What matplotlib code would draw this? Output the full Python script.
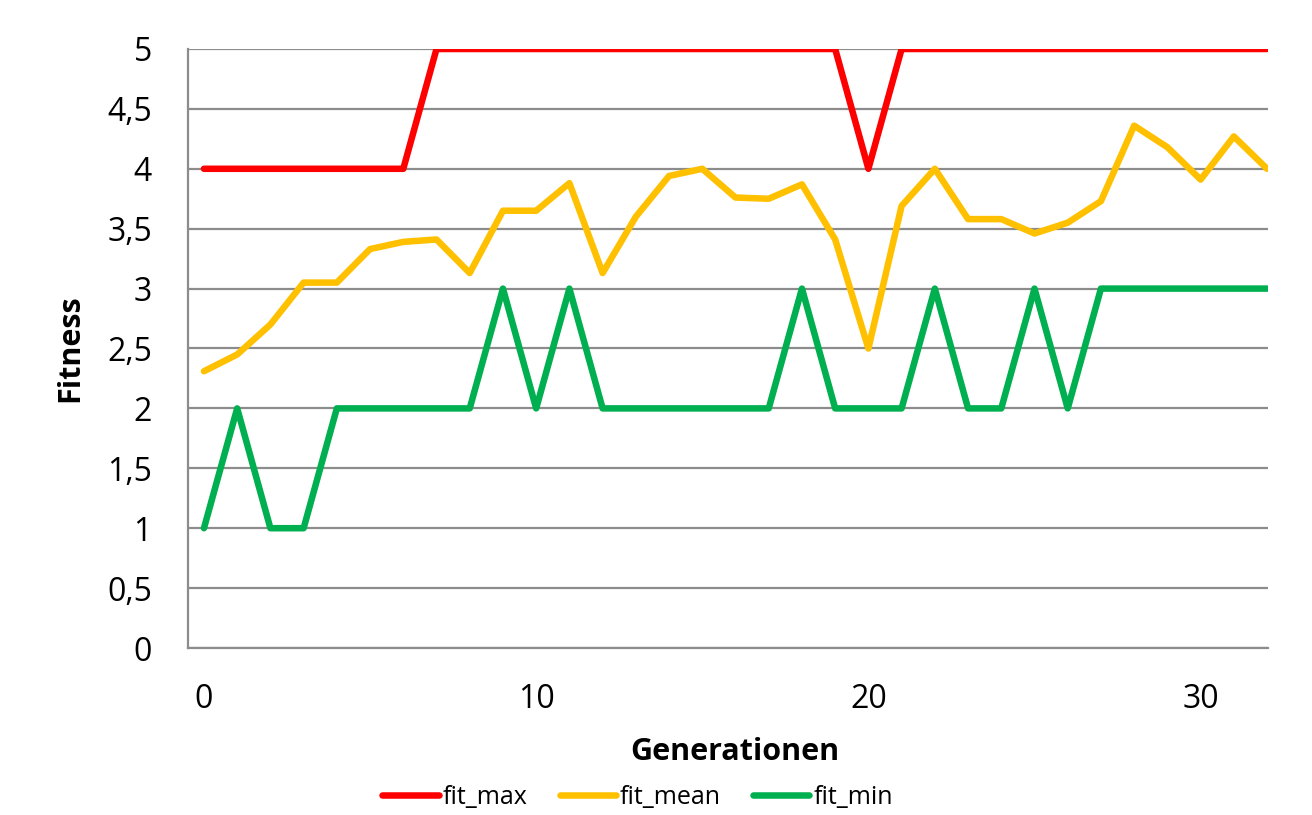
import matplotlib
matplotlib.use("Agg")
import matplotlib.pyplot as plt
from matplotlib.ticker import FuncFormatter

generations = list(range(33))
fit_max = [4, 4, 4, 4, 4, 4, 4, 5, 5, 5, 5, 5, 5, 5, 5, 5, 5, 5, 5, 5,
           4, 5, 5, 5, 5, 5, 5, 5, 5, 5, 5, 5, 5]
fit_mean = [2.31, 2.45, 2.70, 3.05, 3.05, 3.33, 3.39, 3.41, 3.13, 3.65, 3.65,
            3.88, 3.13, 3.60, 3.94, 4.00, 3.76, 3.75, 3.87, 3.41, 2.50, 3.69,
            4.00, 3.58, 3.58, 3.46, 3.55, 3.73, 4.36, 4.18, 3.91, 4.27, 4.00]
fit_min = [1, 2, 1, 1, 2, 2, 2, 2, 2, 3, 2, 3, 2, 2, 2, 2, 2, 2, 3, 2,
           2, 2, 3, 2, 2, 3, 2, 3, 3, 3, 3, 3, 3]

plt.rcParams["font.family"] = ["Open Sans", "DejaVu Sans"]

fig = plt.figure(figsize=(13.12, 8.15), dpi=100)
ax = fig.add_axes([0.1433, 0.2049, 0.8232, 0.735])

lw = 4.7
ax.plot(generations, fit_max, color="#ff0000", lw=lw, label="fit_max", solid_capstyle="round", zorder=3)
ax.plot(generations, fit_mean, color="#ffc000", lw=lw, label="fit_mean", solid_capstyle="round", zorder=3)
ax.plot(generations, fit_min, color="#00b050", lw=lw, label="fit_min", solid_capstyle="round", zorder=3)

ax.set_xlim(-0.48, 32.03)
ax.set_ylim(0, 5)
ax.set_yticks([i * 0.5 for i in range(11)])
ax.set_xticks([0, 10, 20, 30])
ax.yaxis.set_major_formatter(FuncFormatter(lambda v, p: f"{v:g}".replace(".", ",")))

ax.grid(axis="y", color="#8c8c8c", lw=1.6, zorder=1)
for s in ["top", "right"]:
    ax.spines[s].set_visible(False)
for s in ["left", "bottom"]:
    ax.spines[s].set_color("#8c8c8c")
    ax.spines[s].set_linewidth(1.6)
ax.tick_params(axis="both", length=0, labelsize=23, colors="black")
ax.tick_params(axis="y", pad=26)
ax.tick_params(axis="x", pad=25)

ax.set_xlabel("Generationen", fontsize=22, fontweight="bold", va="baseline")
ax.xaxis.set_label_coords(0.506, -0.187)
ax.set_ylabel("Fitness", fontsize=22, fontweight="bold", va="center")
ax.yaxis.set_label_coords(-0.109, 0.5)

fig.legend(*ax.get_legend_handles_labels(), loc="center",
           bbox_to_anchor=(637.5 / 1312, 1 - 797 / 815), ncol=3, frameon=False,
           fontsize=18, handlelength=2.25, handletextpad=0.15, columnspacing=1.3)

fig.savefig("out.png", dpi=100, facecolor="white")
